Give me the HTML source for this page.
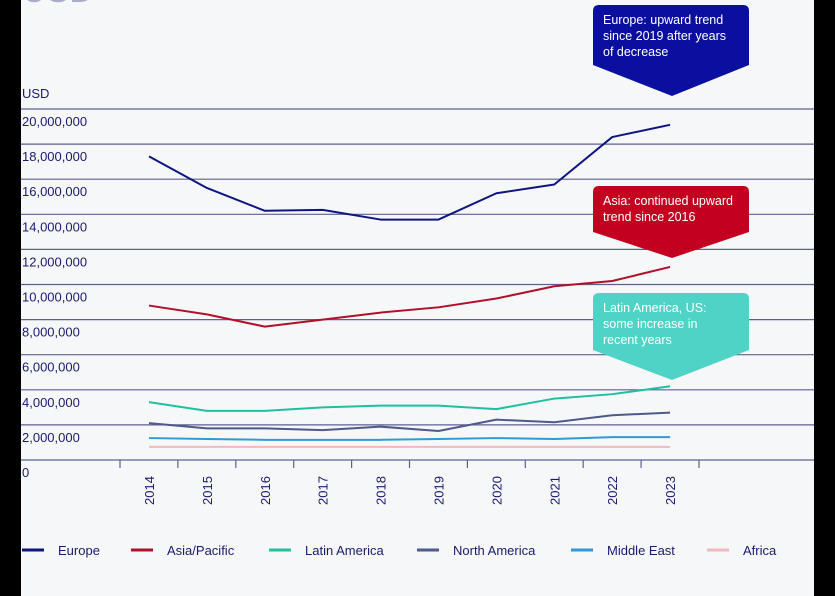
<!DOCTYPE html>
<html><head><meta charset="utf-8"><style>
body{margin:0;width:835px;height:596px;overflow:hidden;background:#000;font-family:"Liberation Sans",sans-serif}
svg{display:block}
</style></head><body>
<svg id="chart" width="835" height="596">
<rect x="21" y="0" width="793" height="596" fill="#f6f7f9"/>
<text x="22" y="2" font-size="34" fill="#a9acc8">USD</text>
<text x="22" y="98" font-size="13" fill="#1a1a6e">USD</text>
<g id="grid"></g><g id="lines"></g><g id="callouts"></g><g id="legend"></g>
</svg>
<script>
const years=["2014","2015","2016","2017","2018","2019","2020","2021","2022","2023"];
const yTicks=[0,2,4,6,8,10,12,14,16,18,20];
const europe=[17.3,15.5,14.2,14.25,13.7,13.7,15.2,15.7,18.4,19.1];
const asia=[8.8,8.3,7.6,8.0,8.4,8.7,9.2,9.9,10.2,11.0];
const latam=[3.3,2.8,2.8,3.0,3.1,3.1,2.9,3.5,3.75,4.2];
const northAm=[2.1,1.8,1.8,1.7,1.9,1.65,2.3,2.15,2.55,2.7];
const middleEast=[1.25,1.2,1.15,1.15,1.15,1.2,1.25,1.2,1.3,1.3];
const africa=[0.75,0.75,0.75,0.75,0.75,0.75,0.75,0.75,0.75,0.75];
const seriesNames=["Europe","Asia/Pacific","Latin America","North America","Middle East","Africa"];
const NS="http://www.w3.org/2000/svg";
const x=i=>149+i*57.9;
const y=v=>460-v*17.55;
function mk(tag,attrs,parent,txt){const e=document.createElementNS(NS,tag);for(const k in attrs)e.setAttribute(k,attrs[k]);if(txt!==undefined)e.textContent=txt;parent.appendChild(e);return e;}
const grid=document.getElementById('grid');
yTicks.forEach(t=>{
  const l=mk('line',{x1:21,x2:814,y1:y(t),y2:y(t),stroke:'#5d6190','stroke-width':1.2},grid);
  
  
  const lb=mk('text',{x:22,y:y(t)+17,'font-size':13,fill:'#1a1a6e'},grid,t===0?'0':(t*1000000).toLocaleString('en-US'));
  
  
});
for(let k=0;k<=years.length;k++){
  const tx=x(k)-29;
  const tk=mk('line',{x1:tx,x2:tx,y1:460,y2:468,stroke:'#5d6190','stroke-width':1.2},grid);
  
  
}
years.forEach((yr,i)=>{
  const t=mk('text',{x:0,y:0,'font-size':13,fill:'#1a1a6e',transform:`translate(${x(i)+5},505) rotate(-90)`},grid,yr);
  
  
});
const data=[europe,asia,latam,northAm,middleEast,africa];
const colors=["#0f1580","#b0102a","#1fbf9f","#4e5a8a","#2e9bd6","#f0b8bf"];
const lines=document.getElementById('lines');
data.forEach((d,s)=>{
  const p=mk('polyline',{points:d.map((v,i)=>x(i)+','+y(v)).join(' '),fill:'none',stroke:colors[s],'stroke-width':2,'stroke-linejoin':'round'},lines);
  
  
});
const call=document.getElementById('callouts');
const notes=[{top:5,bot:65,tip:96,c:"#0b0fa0",t:["Europe: upward trend","since 2019 after years","of decrease"],n:"europe"},
{top:186,bot:232,tip:258,c:"#c3001f",t:["Asia: continued upward","trend since 2016"],n:"asia"},
{top:293,bot:350,tip:380,c:"#4fd3c6",t:["Latin America, US:","some increase in","recent years"],n:"latin-america"}];
notes.forEach(o=>{
  const g=mk('g',{},call);
  
  
  mk('path',{d:`M599 ${o.top} H743 Q749 ${o.top} 749 ${o.top+6} V${o.bot} L672 ${o.tip} L593 ${o.bot} V${o.top+6} Q593 ${o.top} 599 ${o.top} Z`,fill:o.c},g);
  o.t.forEach((s,i)=>mk('text',{x:603,y:o.top+19+i*16,'font-size':12.5,fill:'#fff'},g,s));
});
const leg=document.getElementById('legend');
const lx=[22,131,269,417,571,707];
seriesNames.forEach((n,i)=>{
  const g=mk('g',{},leg);
  
  
  mk('line',{x1:lx[i],x2:lx[i]+22,y1:550,y2:550,stroke:colors[i],'stroke-width':3},g);
  mk('text',{x:lx[i]+36,y:555,'font-size':13,fill:'#1a1a6e'},g,n);
});
</script>
</body></html>
